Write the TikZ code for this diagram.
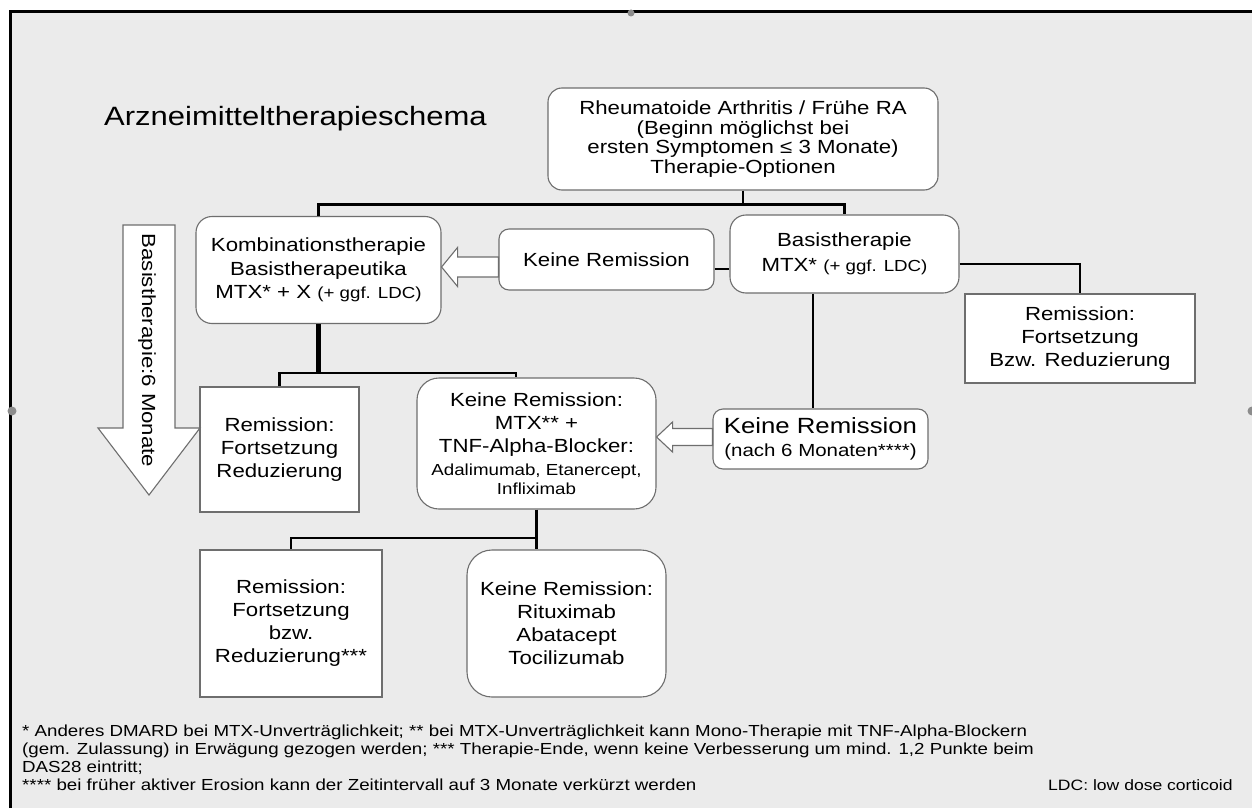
\documentclass[tikz,border=0pt]{standalone}
\usepackage{fontspec}
\setmainfont{Liberation Sans}[FakeStretch=1.17]
\usetikzlibrary{calc}
\definecolor{bg}{HTML}{EBEBEB}
\definecolor{boxline}{HTML}{6E6E6E}
\definecolor{handle}{HTML}{8C8C8C}
\newcommand\fsz[2]{\fontsize{#1}{#2}\selectfont}
\tikzset{
  rbox/.style={draw=boxline, fill=white, line width=1.1pt, rounded corners=#1,
    inner sep=0pt, align=center, font=\fsz{19}{23}},
  rbox/.default=15pt,
  sbox/.style={draw=boxline, fill=white, line width=1.1pt,
    inner sep=0pt, align=center, font=\fsz{19}{23}},
  link/.style={line width=2.8pt, black},
  heavylink/.style={line width=5pt, black},
  hollow/.style={draw=boxline, fill=white, line width=1.1pt, line join=miter},
  foot/.style={anchor=base west, inner sep=0pt, font=\fsz{16}{18}},
}
\begin{document}
\begin{tikzpicture}[x=1pt,y=-1pt]
\useasboundingbox (0,0) rectangle (1252,808);
\fill[white] (0,0) rectangle (1252,808);
% slide area with its frame
\fill[bg] (10.5,12) rectangle (1253,808);
\draw[line width=3pt] (10.5,808) -- (10.5,12) -- (1253,12) -- (1253,808);
\fill[handle] (12,411) circle (4.5);
\fill[handle] (1252,411) circle (4.5);
\fill[handle] (631,13) circle (3.5);

% title
\node[anchor=base west, inner sep=0pt, font=\fsz{26.5}{30}] (title) at (104,125) {Arzneimitteltherapieschema};

% boxes
\node[rbox=14pt, minimum width=390pt, minimum height=102pt, font=\fsz{19}{19.5}] (top) at (743,139)
  {Rheumatoide Arthritis / Frühe RA\\(Beginn möglichst bei\\ersten Symptomen ≤ 3 Monate)\\Therapie-Optionen};
\node[rbox=16pt, minimum width=245pt, minimum height=107pt, font=\fsz{19}{23.5}] (kombi) at (318.5,270)
  {Kombinationstherapie\\Basistherapeutika\\MTX* + X {\fsz{16}{19}(+ ggf. LDC)}};
\node[rbox=10pt, minimum width=215pt, minimum height=61pt] (keine1) at (606.5,259.5) {Keine Remission};
\node[rbox=16pt, minimum width=229pt, minimum height=78pt, font=\fsz{19}{25}] (basis) at (844.5,254)
  {Basistherapie\\MTX* {\fsz{16}{19}(+ ggf. LDC)}};
\node[sbox, minimum width=230pt, minimum height=89pt] (remR) at (1080,338.5)
  {Remission:\\Fortsetzung\\Bzw. Reduzierung};
\node[sbox, minimum width=159pt, minimum height=125pt] (remL) at (279.5,449.5)
  {Remission:\\Fortsetzung\\Reduzierung};
\node[rbox=22pt, minimum width=239pt, minimum height=131pt] (mtx) at (536.5,443.5)
  {Keine Remission:\\MTX** +\\TNF-Alpha-Blocker:\\{\fsz{16}{19}Adalimumab, Etanercept,}\\[-4pt]{\fsz{16}{19}Infliximab}};
\node[rbox=10pt, minimum width=215pt, minimum height=60pt] (keine2) at (820.5,439)
  {{\fsz{22}{26}Keine Remission}\\{\fsz{17.5}{21}(nach 6 Monaten****)}};
\node[sbox, minimum width=182pt, minimum height=147pt] (remB) at (291,623.5)
  {Remission:\\Fortsetzung\\bzw.\\Reduzierung***};
\node[rbox=25pt, minimum width=199pt, minimum height=147pt] (keineB) at (566.5,623.5)
  {Keine Remission:\\Rituximab\\Abatacept\\Tocilizumab};

% six-month arrow
\draw[hollow] (123,225) -- (175,225) -- (175,428) -- (200,428) -- (149,495)
  -- (98,428) -- (123,428) -- cycle;
\node[rotate=-90, inner sep=0pt, font=\fsz{19}{23}] (period) at (147,350.5) {Basistherapie:6 Monate};

% connectors
\coordinate (j1) at ($(top.south)+(0,14)$);
\draw[link] (top.south) -- (j1);
\draw[link] (j1) -| (kombi.north);
\draw[link] (j1) -| (basis.north);
\draw[link] (keine1.east |- 0,269) -- (basis.west |- 0,269);
\draw[link] (basis.east |- 0,264) -| (remR.north);
\coordinate (xb) at (813,0);
\draw[link] (basis.south -| xb) -- (keine2.north -| xb);
\coordinate (j2) at (kombi.south |- 0,373);
\draw[heavylink] (kombi.south) -- (j2);
\coordinate (xa) at (516,373);
\draw[link] (remL.north) |- (xa) -- (xa |- mtx.north);
\coordinate (j3) at (mtx.south |- 0,538);
\draw[link] (mtx.south) -- (j3) -- (j3 |- keineB.north);
\draw[link] (j3) -| (remB.north);

% hollow arrows
\coordinate (t1) at (kombi.east |- 0,267);
\draw[hollow] (t1) -- ++(16,-19.5) -- ++(0,9.5) -- (keine1.west |- 0,257)
  -- (keine1.west |- 0,277) -- ($(t1)+(16,10)$) -- ++(0,9.5) -- cycle;
\coordinate (t2) at (mtx.east |- 0,437);
\draw[hollow] (t2) -- ++(16,-15) -- ++(0,6.5) -- (keine2.west |- 0,428.5)
  -- (keine2.west |- 0,445.5) -- ($(t2)+(16,8.5)$) -- ++(0,6.5) -- cycle;

% footnotes
\node[foot] (fn1) at (22,736) {* Anderes DMARD bei MTX-Unverträglichkeit; ** bei MTX-Unverträglichkeit kann Mono-Therapie mit TNF-Alpha-Blockern};
\node[foot] (fn2) at (22,754) {(gem. Zulassung) in Erwägung gezogen werden; *** Therapie-Ende, wenn keine Verbesserung um mind. 1,2 Punkte beim};
\node[foot] (fn3) at (22,772) {DAS28 eintritt;};
\node[foot] (fn4) at (22,790) {**** bei früher aktiver Erosion kann der Zeitintervall auf 3 Monate verkürzt werden};
\node[foot, font=\fsz{15}{18}] (ldc) at (1048,790) {LDC: low dose corticoid};
\end{tikzpicture}
\end{document}
